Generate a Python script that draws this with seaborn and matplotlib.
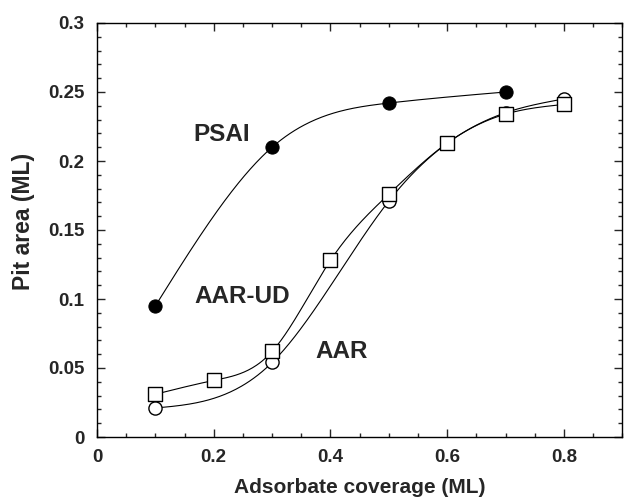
import numpy as np
import pandas as pd
import matplotlib
matplotlib.use("Agg")
import matplotlib.pyplot as plt
import seaborn as sns
from matplotlib.ticker import MultipleLocator, FuncFormatter

# Data
psai_x = [0.1, 0.3, 0.5, 0.7]
psai_y = [0.095, 0.210, 0.242, 0.250]
aarud_x = [0.1, 0.2, 0.3, 0.4, 0.5, 0.6, 0.7, 0.8]
aarud_y = [0.031, 0.041, 0.062, 0.128, 0.176, 0.213, 0.234, 0.241]
aar_x = [0.1, 0.3, 0.5, 0.7, 0.8]
aar_y = [0.021, 0.054, 0.171, 0.235, 0.245]

sns.set_theme(style="ticks")
plt.rcParams['font.family'] = ['Liberation Sans', 'DejaVu Sans']
plt.rcParams['font.weight'] = 'bold'

fig = plt.figure(figsize=(6.24, 5.0), dpi=100)
ax = fig.add_axes([0.1554, 0.126, 0.842, 0.828])


def natural_spline(x, y, n=300):
    """Natural cubic spline through the data points."""
    x = np.asarray(x, float)
    y = np.asarray(y, float)
    N = len(x)
    h = np.diff(x)
    A = np.zeros((N, N))
    b = np.zeros(N)
    A[0, 0] = 1
    A[-1, -1] = 1
    for i in range(1, N - 1):
        A[i, i - 1] = h[i - 1]
        A[i, i] = 2 * (h[i - 1] + h[i])
        A[i, i + 1] = h[i]
        b[i] = 6 * ((y[i + 1] - y[i]) / h[i] - (y[i] - y[i - 1]) / h[i - 1])
    M = np.linalg.solve(A, b)
    xs = np.linspace(x[0], x[-1], n)
    idx = np.clip(np.searchsorted(x, xs) - 1, 0, N - 2)
    xi, xi1, hi = x[idx], x[idx + 1], h[idx]
    ys = (M[idx] * (xi1 - xs) ** 3 / (6 * hi) + M[idx + 1] * (xs - xi) ** 3 / (6 * hi)
          + (y[idx] / hi - M[idx] * hi / 6) * (xi1 - xs)
          + (y[idx + 1] / hi - M[idx + 1] * hi / 6) * (xs - xi))
    return xs, ys


for x, y in [(psai_x, psai_y), (aarud_x, aarud_y), (aar_x, aar_y)]:
    xs, ys = natural_spline(x, y)
    sns.lineplot(x=xs, y=ys, ax=ax, color='black', lw=0.8, sort=False)

sns.scatterplot(x=psai_x, y=psai_y, ax=ax, marker='o', s=90, color='black',
                edgecolor='black', zorder=5)
sns.scatterplot(x=aarud_x, y=aarud_y, ax=ax, marker='s', s=100, facecolor='white',
                edgecolor='black', linewidth=1.0, zorder=5)
sns.scatterplot(x=aar_x, y=aar_y, ax=ax, marker='o', s=90, facecolor='white',
                edgecolor='black', linewidth=1.0, zorder=4)

ax.set_xlim(0, 0.9)
ax.set_ylim(0, 0.3)
ax.xaxis.set_major_locator(MultipleLocator(0.2))
ax.xaxis.set_minor_locator(MultipleLocator(0.05))
ax.yaxis.set_major_locator(MultipleLocator(0.05))
ax.yaxis.set_minor_locator(MultipleLocator(0.01))
fmt = FuncFormatter(lambda v, p: ('%g' % round(v, 3)))
ax.xaxis.set_major_formatter(fmt)
ax.yaxis.set_major_formatter(fmt)
ax.tick_params(which='both', direction='in', top=True, right=True, width=1.0,
               labelsize=13.5)
ax.tick_params(which='major', length=6, pad=9)
ax.tick_params(which='minor', length=3)
for lab in ax.get_xticklabels() + ax.get_yticklabels():
    lab.set_fontweight('bold')
for s in ax.spines.values():
    s.set_linewidth(1.0)
    s.set_color('black')

ax.set_xlabel('Adsorbate coverage (ML)', fontsize=15, fontweight='bold', labelpad=8)
ax.set_ylabel('Pit area (ML)', fontsize=16.5, fontweight='bold', labelpad=9)
ax.yaxis.set_label_coords(-0.118, 0.52)

ax.text(0.165, 0.219, 'PSAI', fontsize=17.5, fontweight='bold', va='center', ha='left')
ax.text(0.167, 0.102, 'AAR-UD', fontsize=17.5, fontweight='bold', va='center', ha='left')
ax.text(0.374, 0.062, 'AAR', fontsize=17.5, fontweight='bold', va='center', ha='left')

fig.savefig('out.png', dpi=100)
